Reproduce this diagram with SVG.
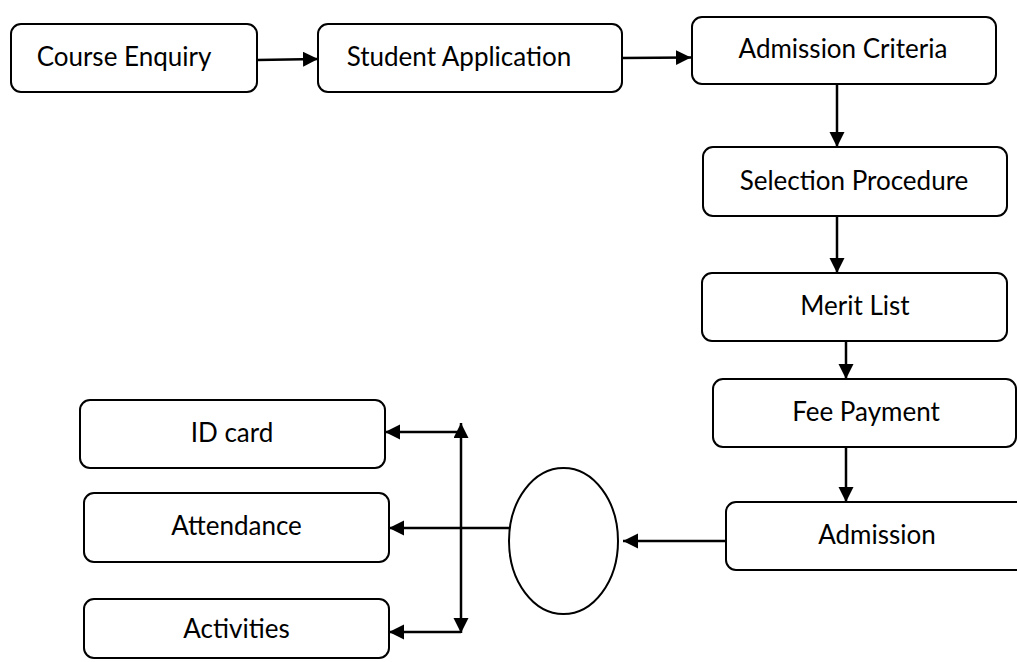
<svg xmlns="http://www.w3.org/2000/svg" width="1017" height="662" viewBox="0 0 1017 662">
<style>
.box{fill:#fff;stroke:#000;stroke-width:2}
.lbl{font-family:Lato,"Open Sans","Liberation Sans",sans-serif;font-size:26px;fill:#000;text-anchor:middle}
.con{fill:none;stroke:#000;stroke-width:2.5}
</style>
<defs>
<marker id="ah" markerUnits="userSpaceOnUse" markerWidth="16" markerHeight="16" refX="15" refY="7.5" orient="auto-start-reverse">
<path d="M0,0 L15,7.5 L0,15 z" fill="#000"/>
</marker>
</defs>
<rect width="1017" height="662" fill="#fff"/>
<g id="connectors">
<line class="con" x1="257" y1="60" x2="318" y2="59" marker-end="url(#ah)"/>
<line class="con" x1="622" y1="58" x2="691" y2="57.5" marker-end="url(#ah)"/>
<line class="con" x1="837" y1="84" x2="837" y2="147" marker-end="url(#ah)"/>
<line class="con" x1="837" y1="216" x2="837" y2="273" marker-end="url(#ah)"/>
<line class="con" x1="846" y1="341" x2="846" y2="379" marker-end="url(#ah)"/>
<line class="con" x1="846" y1="447" x2="846" y2="502" marker-end="url(#ah)"/>
<line class="con" x1="726" y1="541" x2="623" y2="541" marker-end="url(#ah)"/>
<line class="con" x1="509" y1="528" x2="389" y2="528" marker-end="url(#ah)"/>
<line class="con" x1="461" y1="423" x2="461" y2="633" marker-start="url(#ah)" marker-end="url(#ah)"/>
<line class="con" x1="461" y1="432" x2="385" y2="432" marker-end="url(#ah)"/>
<line class="con" x1="461" y1="632" x2="389" y2="632" marker-end="url(#ah)"/>
</g>
<g id="course-enquiry"><rect class="box" x="11" y="24" width="246" height="68" rx="10"/><text class="lbl" x="124" y="66">Course Enquiry</text></g>
<g id="student-application"><rect class="box" x="318" y="24" width="304" height="68" rx="10"/><text class="lbl" x="459" y="66">Student Application</text></g>
<g id="admission-criteria"><rect class="box" x="692" y="17" width="304" height="67" rx="10"/><text class="lbl" x="843" y="58">Admission Criteria</text></g>
<g id="selection-procedure"><rect class="box" x="703" y="147" width="304" height="69" rx="10"/><text class="lbl" x="854" y="190">Selection Procedure</text></g>
<g id="merit-list"><rect class="box" x="702" y="273" width="305" height="68" rx="10"/><text class="lbl" x="855" y="315">Merit List</text></g>
<g id="fee-payment"><rect class="box" x="713" y="379" width="303" height="68" rx="10"/><text class="lbl" x="866" y="421">Fee Payment</text></g>
<g id="admission"><rect class="box" x="726" y="502" width="320" height="68" rx="10"/><text class="lbl" x="877" y="544">Admission</text></g>
<g id="hub"><ellipse class="box" cx="563.5" cy="541" rx="54.5" ry="73"/></g>
<g id="id-card"><rect class="box" x="80" y="400" width="305" height="68" rx="10"/><text class="lbl" x="232" y="442">ID card</text></g>
<g id="attendance"><rect class="box" x="84" y="493" width="305" height="69" rx="10"/><text class="lbl" x="236.5" y="535">Attendance</text></g>
<g id="activities"><rect class="box" x="84" y="599" width="305" height="59" rx="10"/><text class="lbl" x="236.5" y="638">Activities</text></g>
</svg>
